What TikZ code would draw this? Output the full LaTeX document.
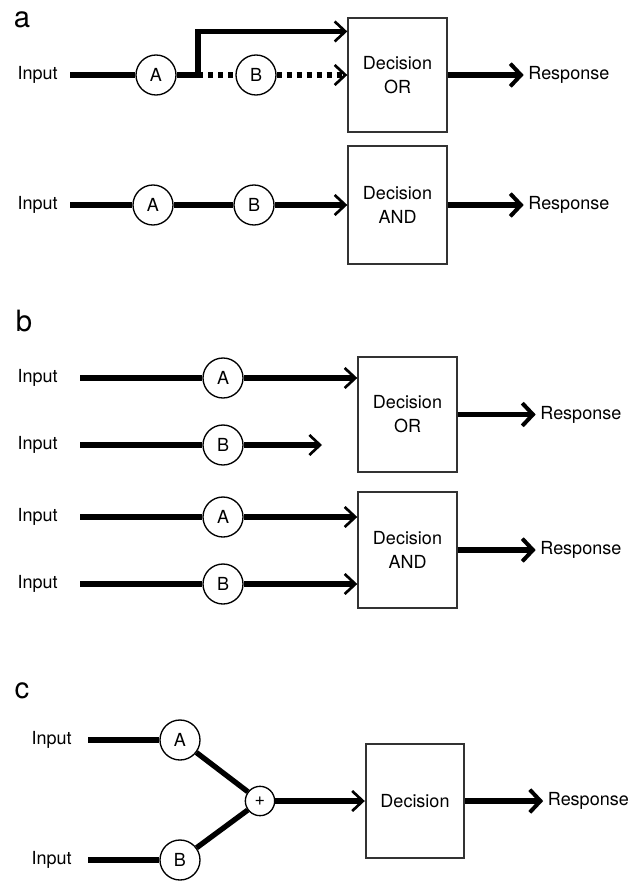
\documentclass[tikz,border=0pt]{standalone}
\usepackage{fontspec}
\setmainfont{TeX Gyre Heros}
\usepackage{tikz}
\usetikzlibrary{arrows.meta, positioning}
\tikzset{
        every node/.style={font=\fontsize{13.5pt}{18pt}\selectfont}, % text size of all labels
        signal/.style={line width=4pt}, % heavy line carrying an input
        dotted signal/.style={signal, dash pattern=on 4pt off 3.5pt}, % path that is not taken
        in tip/.style={-{Straight Barb[length=8pt, width=15pt, line width=2pt]}}, % open arrow into a box
        out tip/.style={-{Straight Barb[length=8pt, width=17pt, line width=3pt]}}, % heavy arrow to the response
    }
\tikzset{
      gate/.style={
		circle, draw, fill=white,
		line width=1pt,
		minimum size={#1},
		inner sep=0pt,
	  },
      gate/.default=30pt,
      decision box/.style={
		draw=black!80, fill=white,
		line width=1.3pt,
		minimum width=74pt,
		minimum height={#1},
		align=center,
	  },
      decision box/.default=86pt,
  		input/.style={
    	anchor=east, inner sep=0pt,
      },
  		panel label/.style={
    	font=\fontsize{22pt}{26pt}\selectfont, inner sep=0pt,
      }
  	}

\begin{document}
\begin{tikzpicture}[x=0.75pt, y=-0.75pt]
    \useasboundingbox (0,0) rectangle (636,881);
    % a: one path after the other
    \node [panel label] (pa) at (22,20) {a};
    \node [input] (in1) at (58,75) {Input};
    \node [gate] (A1) at (156,75) {A};
    \coordinate (fork) at (198,75);
    \node [gate] (B1) at (256,75) {B};
    \node [decision box] (or1) at (397.5,75) {Decision\\OR};
    \node [right=57pt of or1] (r1) {Response};
    \draw [signal, shorten <=9pt] (in1) -- (A1);
    \draw [signal, in tip] (A1) -- (fork) |- ([yshift=-11pt]or1.north west);
    \draw [dotted signal] (fork) -- (B1);
    \draw [dotted signal, in tip] (B1) -- (or1);
    \draw [signal, out tip] (or1) -- (r1);

    \node [input] (in2) at (58,205) {Input};
    \node [gate] (A2) at (153,205) {A};
    \node [gate] (B2) at (254,205) {B};
    \node [decision box=88pt] (and1) at (397.5,205) {Decision\\AND};
    \node [right=57pt of and1] (r2) {Response};
    \draw [signal, shorten <=9pt] (in2) -- (A2);
    \draw [signal] (A2) -- (B2);
    \draw [signal, in tip] (B2) -- (and1);
    \draw [signal, out tip] (and1) -- (r2);

    % b: both paths side by side
    \node [panel label] (pb) at (24,321.5) {b};
    \node [decision box] (or2) at (407.5,414.5) {Decision\\OR};
    \node [decision box=87pt] (and2) at (407.5,550) {Decision\\AND};
    \node [right=58.5pt of or2] (r3) {Response};
    \node [right=58.5pt of and2] (r4) {Response};
    \node [input] (in3) at (58,378) {Input};
    \node [gate] (A3) at (223,378) {A};
    \node [input] (in4) at (58,445) {Input};
    \node [gate] (B4) at (223,445) {B};
    \coordinate (stop) at (322,445);
    \node [input] (in5) at (58,517) {Input};
    \node [gate] (A5) at (223,517) {A};
    \node [input] (in6) at (58,584) {Input};
    \node [gate] (B6) at (223,584) {B};
    \draw [signal, shorten <=16.5pt] (in3) -- (A3);
    \draw [signal, in tip] (A3) -- (A3 -| or2.west);
    \draw [signal, shorten <=16.5pt] (in4) -- (B4);
    \draw [signal, in tip] (B4) -- (stop);
    \draw [signal, shorten <=16.5pt] (in5) -- (A5);
    \draw [signal, in tip] (A5) -- (A5 -| and2.west);
    \draw [signal, shorten <=16.5pt] (in6) -- (B6);
    \draw [signal, in tip] (B6) -- (B6 -| and2.west);
    \draw [signal, out tip] (or2) -- (r3);
    \draw [signal, out tip] (and2) -- (r4);

    % c: paths summed before the decision
    \node [panel label] (pc) at (22,690.5) {c};
    \node [input] (in7) at (72,740) {Input};
    \node [gate] (A7) at (180,740) {A};
    \node [input] (in8) at (72,860) {Input};
    \node [gate] (B8) at (180,860) {B};
    \node [gate=22pt] (sum) at (260,801) {+};
    \node [decision box] (dec) at (415,801) {Decision};
    \node [right=58.5pt of dec] (r5) {Response};
    \draw [signal, shorten <=12pt] (in7) -- (A7);
    \draw [signal, shorten <=12pt] (in8) -- (B8);
    \draw [signal] (A7) -- (sum);
    \draw [signal] (B8) -- (sum);
    \draw [signal, in tip] (sum) -- (dec);
    \draw [signal, out tip] (dec) -- (r5);
\end{tikzpicture}
\end{document}
